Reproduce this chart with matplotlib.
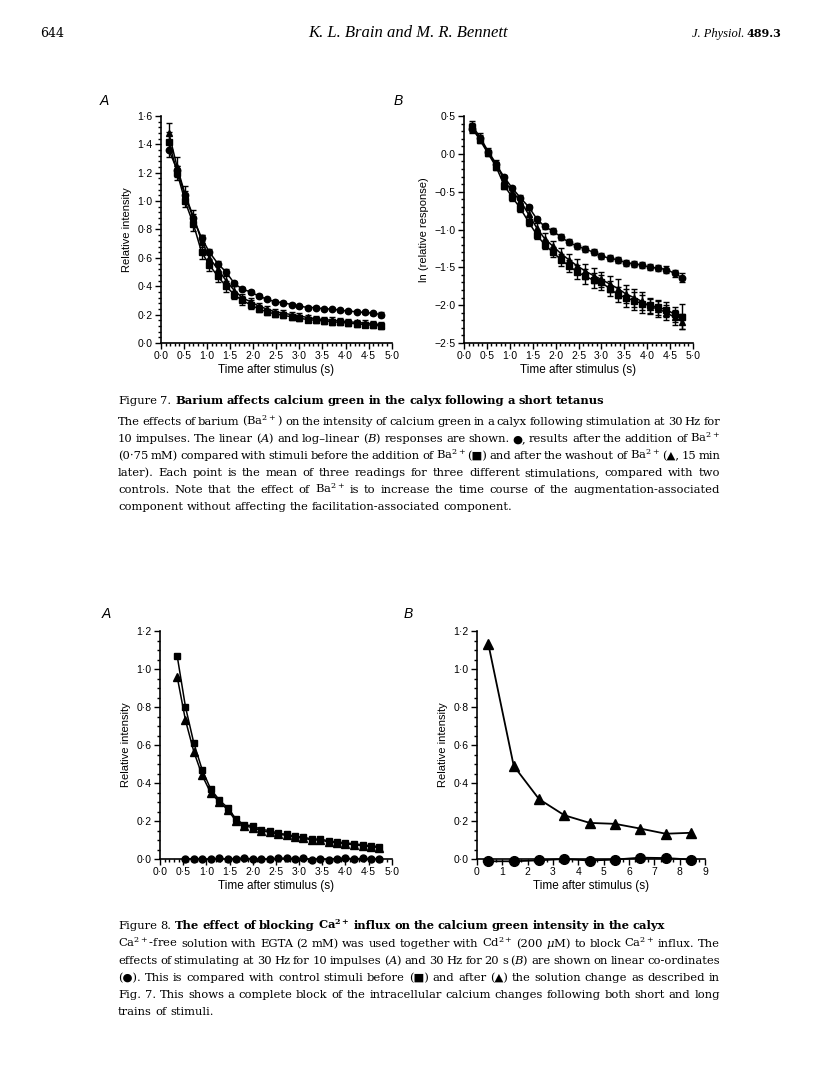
import matplotlib
matplotlib.use("Agg")
import matplotlib.pyplot as plt
from matplotlib.ticker import MultipleLocator, FuncFormatter

plt.rcParams['font.family'] = ['Liberation Sans', 'DejaVu Sans']
plt.rcParams['mathtext.fontset'] = 'dejavuserif'

# ---- Figure 7 : time after stimulus (s) ----
t7 = [0.17, 0.35, 0.52, 0.70, 0.88, 1.05, 1.23, 1.41, 1.59, 1.76, 1.94, 2.12, 2.29, 2.47,
      2.65, 2.83, 3.00, 3.18, 3.36, 3.53, 3.71, 3.89, 4.06, 4.24, 4.42, 4.60, 4.77]

# A : relative intensity
ba_lin = [1.36, 1.22, 1.04, 0.88, 0.74, 0.64, 0.56, 0.50, 0.42, 0.38, 0.36, 0.33, 0.31, 0.29,
          0.285, 0.27, 0.26, 0.25, 0.25, 0.24, 0.24, 0.23, 0.225, 0.22, 0.215, 0.21, 0.20]
ba_lin_err = [0.05, 0.03, 0.03, 0.03, 0.02, 0.02, 0.02, 0.02, 0.015, 0.015, 0.015, 0.015, 0.01, 0.01,
              0.01, 0.01, 0.01, 0.01, 0.01, 0.01, 0.01, 0.01, 0.01, 0.01, 0.01, 0.01, 0.02]
before_lin = [1.42, 1.20, 1.00, 0.84, 0.64, 0.55, 0.47, 0.40, 0.34, 0.30, 0.27, 0.24, 0.22, 0.205,
              0.195, 0.185, 0.175, 0.165, 0.16, 0.155, 0.15, 0.145, 0.14, 0.135, 0.13, 0.125, 0.12]
before_lin_err = [0.07, 0.05, 0.04, 0.05, 0.05, 0.04, 0.04, 0.04, 0.03, 0.03, 0.03, 0.025, 0.02, 0.02,
                  0.02, 0.02, 0.02, 0.02, 0.02, 0.02, 0.02, 0.02, 0.02, 0.02, 0.02, 0.02, 0.02]
wash_lin = [1.48, 1.24, 1.05, 0.89, 0.72, 0.60, 0.52, 0.44, 0.37, 0.32, 0.29, 0.26, 0.24, 0.22,
            0.21, 0.20, 0.19, 0.18, 0.17, 0.165, 0.16, 0.155, 0.15, 0.145, 0.14, 0.135, 0.13]
wash_lin_err = [0.07, 0.07, 0.06, 0.05, 0.04, 0.03, 0.03, 0.03, 0.03, 0.025, 0.025, 0.02, 0.02, 0.02,
                0.02, 0.02, 0.02, 0.02, 0.02, 0.02, 0.02, 0.02, 0.02, 0.02, 0.02, 0.02, 0.02]

# B : ln (relative response)
ba_log = [0.33, 0.21, 0.02, -0.14, -0.31, -0.45, -0.58, -0.70, -0.86, -0.96, -1.02, -1.10, -1.17, -1.22,
          -1.26, -1.30, -1.35, -1.38, -1.40, -1.44, -1.45, -1.47, -1.50, -1.51, -1.53, -1.58, -1.64]
ba_log_err = [0.05, 0.04, 0.03, 0.03, 0.03, 0.03, 0.03, 0.03, 0.03, 0.03, 0.04, 0.04, 0.04, 0.04,
              0.04, 0.04, 0.04, 0.04, 0.04, 0.04, 0.04, 0.04, 0.04, 0.04, 0.05, 0.05, 0.06]
before_log = [0.35, 0.18, 0.01, -0.17, -0.42, -0.57, -0.72, -0.90, -1.07, -1.20, -1.30, -1.40, -1.48, -1.56,
              -1.62, -1.67, -1.70, -1.78, -1.86, -1.90, -1.94, -1.98, -2.00, -2.03, -2.06, -2.12, -2.15]
before_log_err = [0.06, 0.04, 0.04, 0.05, 0.05, 0.05, 0.05, 0.06, 0.06, 0.06, 0.07, 0.08, 0.08, 0.09,
                  0.10, 0.10, 0.10, 0.10, 0.10, 0.12, 0.12, 0.12, 0.10, 0.10, 0.10, 0.10, 0.16]
wash_log = [0.38, 0.22, 0.04, -0.13, -0.35, -0.50, -0.62, -0.80, -0.98, -1.12, -1.22, -1.32, -1.40, -1.48,
            -1.55, -1.61, -1.66, -1.72, -1.78, -1.85, -1.90, -1.95, -2.02, -2.05, -2.10, -2.16, -2.22]
wash_log_err = [0.06, 0.05, 0.04, 0.05, 0.05, 0.05, 0.05, 0.06, 0.06, 0.07, 0.07, 0.08, 0.08, 0.09,
                0.10, 0.10, 0.10, 0.10, 0.12, 0.12, 0.12, 0.12, 0.10, 0.10, 0.10, 0.10, 0.10]

# ---- Figure 8 ----
t8 = [0.37, 0.55, 0.73, 0.91, 1.09, 1.28, 1.46, 1.64, 1.82, 2.00, 2.18, 2.37, 2.55,
      2.73, 2.91, 3.09, 3.28, 3.46, 3.64, 3.82, 4.00, 4.19, 4.37, 4.55, 4.73]
before8 = [1.07, 0.80, 0.61, 0.47, 0.37, 0.31, 0.27, 0.21, 0.18, 0.175, 0.155, 0.15, 0.135,
           0.13, 0.12, 0.115, 0.105, 0.105, 0.095, 0.09, 0.085, 0.08, 0.075, 0.07, 0.065]
after8 = [0.96, 0.73, 0.565, 0.44, 0.35, 0.30, 0.26, 0.20, 0.175, 0.165, 0.15, 0.14, 0.13,
          0.125, 0.115, 0.11, 0.10, 0.10, 0.09, 0.085, 0.08, 0.075, 0.07, 0.065, 0.06]
t8_cd = [0.55, 0.73, 0.91, 1.09, 1.28, 1.46, 1.64, 1.82, 2.00, 2.18, 2.37, 2.55,
         2.73, 2.91, 3.09, 3.28, 3.46, 3.64, 3.82, 4.00, 4.19, 4.37, 4.55, 4.73]
cd8 = [0.0, 0.002, 0.0, -0.002, 0.003, 0.0, 0.002, 0.005, 0.0, -0.002, 0.0, 0.003,
       0.005, 0.0, 0.004, -0.003, 0.0, -0.003, 0.002, 0.005, 0.0, 0.003, -0.002, 0.0]

t8b = [0.45, 1.45, 2.45, 3.45, 4.45, 5.45, 6.45, 7.45, 8.45]
after8b = [1.13, 0.49, 0.315, 0.23, 0.19, 0.185, 0.16, 0.133, 0.138]
cd8b = [-0.012, -0.012, -0.007, 0.0, -0.008, -0.003, 0.007, 0.005, -0.003]

W, H = 816, 1088
fig = plt.figure(figsize=(W / 100, H / 100), dpi=100)


def fx(px):
    return px / W


def fy(py):
    return 1 - py / H


def box(left, top, right, bottom):
    return [fx(left), fy(bottom), (right - left) / W, (bottom - top) / H]


def dot_fmt(v, pos):
    if abs(v) < 1e-9:
        v = 0.0
    return f'{v:.1f}'.replace('.', '\u00b7').replace('-', '\u2212')


def style(ax, xmaj, xmin, ymaj, ymin, fmt_x=True):
    for s in ['top', 'right']:
        ax.spines[s].set_visible(False)
    for s in ['left', 'bottom']:
        ax.spines[s].set_linewidth(1.2)
    ax.xaxis.set_major_locator(MultipleLocator(xmaj))
    ax.xaxis.set_minor_locator(MultipleLocator(xmin))
    ax.yaxis.set_major_locator(MultipleLocator(ymaj))
    ax.yaxis.set_minor_locator(MultipleLocator(ymin))
    ax.yaxis.set_major_formatter(FuncFormatter(dot_fmt))
    if fmt_x:
        ax.xaxis.set_major_formatter(FuncFormatter(dot_fmt))
    ax.tick_params(which='both', direction='out', width=1.0, labelsize=7.5, pad=2)
    ax.tick_params(which='major', length=4)
    ax.tick_params(which='minor', length=2.5)


def series(ax, x, y, err, marker, ms):
    ax.errorbar(x, y, yerr=err, color='k', ecolor='k', lw=1.1, elinewidth=1.0, capsize=2,
                capthick=1.0, marker=marker, ms=ms, mfc='k', mec='k', clip_on=False)


# Figure 7A
ax1 = fig.add_axes(box(161, 116, 391.7, 343))
series(ax1, t7, before_lin, before_lin_err, 's', 4.2)
series(ax1, t7, wash_lin, wash_lin_err, '^', 4.8)
series(ax1, t7, ba_lin, ba_lin_err, 'o', 4.6)
ax1.set_xlim(0, 5)
ax1.set_ylim(0, 1.6)
style(ax1, 0.5, 0.1, 0.2, 0.04)
ax1.set_ylabel('Relative intensity', fontsize=8, labelpad=4)
ax1.set_xlabel('Time after stimulus (s)', fontsize=8.5, labelpad=2)

# Figure 7B
ax2 = fig.add_axes(box(464, 116, 693, 343))
series(ax2, t7, before_log, before_log_err, 's', 4.2)
series(ax2, t7, wash_log, wash_log_err, '^', 4.8)
series(ax2, t7, ba_log, ba_log_err, 'o', 4.6)
ax2.set_xlim(0, 5)
ax2.set_ylim(-2.5, 0.5)
style(ax2, 0.5, 0.1, 0.5, 0.1)
ax2.set_ylabel('ln (relative response)', fontsize=8, labelpad=4)
ax2.set_xlabel('Time after stimulus (s)', fontsize=8.5, labelpad=2)

# Figure 8A
ax3 = fig.add_axes(box(160, 631, 391.7, 859))
ax3.plot(t8, after8, color='k', lw=1.1, marker='^', ms=5.5, clip_on=False)
ax3.plot(t8, before8, color='k', lw=1.1, marker='s', ms=5, clip_on=False)
ax3.plot(t8_cd, cd8, color='k', lw=1.1, marker='o', ms=5, clip_on=False)
ax3.set_xlim(0, 5)
ax3.set_ylim(0, 1.2)
style(ax3, 0.5, 0.1, 0.2, 0.05)
ax3.set_ylabel('Relative intensity', fontsize=8, labelpad=4)
ax3.set_xlabel('Time after stimulus (s)', fontsize=8.5, labelpad=2)

# Figure 8B
ax4 = fig.add_axes(box(477, 631, 705, 859))
ax4.plot(t8b, after8b, color='k', lw=1.3, marker='^', ms=7, clip_on=False)
ax4.plot(t8b, cd8b, color='k', lw=1.3, marker='o', ms=7, clip_on=False)
ax4.set_xlim(0, 9)
ax4.set_ylim(0, 1.2)
style(ax4, 1, 0.25, 0.2, 0.05, fmt_x=False)
ax4.set_ylabel('Relative intensity', fontsize=8, labelpad=4)
ax4.set_xlabel('Time after stimulus (s)', fontsize=8.5, labelpad=2)

# panel letters
for (px, py, s) in [(104, 101, 'A'), (398, 101, 'B'), (106, 614, 'A'), (408, 614, 'B')]:
    fig.text(fx(px), fy(py), s, fontsize=10, style='italic', ha='center', va='center')

# ---- page text ----
serif = ['DejaVu Serif', 'DejaVu Sans']
renderer = fig.canvas.get_renderer()

fig.text(fx(40), fy(37), '644', family=serif, fontsize=9, va='baseline')
fig.text(fx(408), fy(37), 'K. L. Brain and M. R. Bennett', family=['Liberation Serif'], fontsize=12,
         style='italic', ha='center', va='baseline')
num = fig.text(fx(781), fy(37), '489.3', family=serif, fontsize=8, weight='bold',
               ha='right', va='baseline')
nw = num.get_window_extent(renderer).width
fig.text(fx(781 - nw - 2), fy(37), 'J. Physiol.', family=['Liberation Serif'], fontsize=9,
         style='italic', ha='right', va='baseline')


def text_line(y, line, justify=True, bold_from=None, x0=118, x1=720, size=8.25):
    words = line.split(' ')
    texts = []
    for i, w in enumerate(words):
        wt = 'bold' if (bold_from is not None and i >= bold_from) else 'normal'
        texts.append(fig.text(0, fy(y), w, family=serif, fontsize=size, weight=wt, va='baseline'))
    widths = [t.get_window_extent(renderer).width for t in texts]
    if justify and len(words) > 1:
        gap = (x1 - x0 - sum(widths)) / (len(words) - 1)
    else:
        gap = size * 0.3 * 100 / 72
    x = x0
    for t, w in zip(texts, widths):
        t.set_x(fx(x))
        x += w + gap


fig7_title = 'Figure 7. Barium affects calcium green in the calyx following a short tetanus'
fig7_lines = [
    'The effects of barium (Ba$^{2+}$) on the intensity of calcium green in a calyx following stimulation at 30 Hz for',
    '10 impulses. The linear ($A$) and log\u2013linear ($B$) responses are shown. \u25cf, results after the addition of Ba$^{2+}$',
    '(0\u00b775 mM) compared with stimuli before the addition of Ba$^{2+}$ (\u25a0) and after the washout of Ba$^{2+}$ (\u25b2, 15 min',
    'later). Each point is the mean of three readings for three different stimulations, compared with two',
    'controls. Note that the effect of Ba$^{2+}$ is to increase the time course of the augmentation-associated',
    'component without affecting the facilitation-associated component.',
]
fig8_title = 'Figure 8. The effect of blocking Ca$^{\\mathbf{2+}}$ influx on the calcium green intensity in the calyx'
fig8_lines = [
    'Ca$^{2+}$-free solution with EGTA (2 mM) was used together with Cd$^{2+}$ (200 $\\mu$M) to block Ca$^{2+}$ influx. The',
    'effects of stimulating at 30 Hz for 10 impulses ($A$) and 30 Hz for 20 s ($B$) are shown on linear co-ordinates',
    '(\u25cf). This is compared with control stimuli before (\u25a0) and after (\u25b2) the solution change as described in',
    'Fig. 7. This shows a complete block of the intracellular calcium changes following both short and long',
    'trains of stimuli.',
]

text_line(404, fig7_title, justify=False, bold_from=2)
for i, ln in enumerate(fig7_lines):
    text_line(425 + 17 * i, ln, justify=(i < len(fig7_lines) - 1))

text_line(929, fig8_title, justify=False, bold_from=2)
for i, ln in enumerate(fig8_lines):
    text_line(947 + 17 * i, ln, justify=(i < len(fig8_lines) - 1))

fig.savefig('out.png', dpi=100)
